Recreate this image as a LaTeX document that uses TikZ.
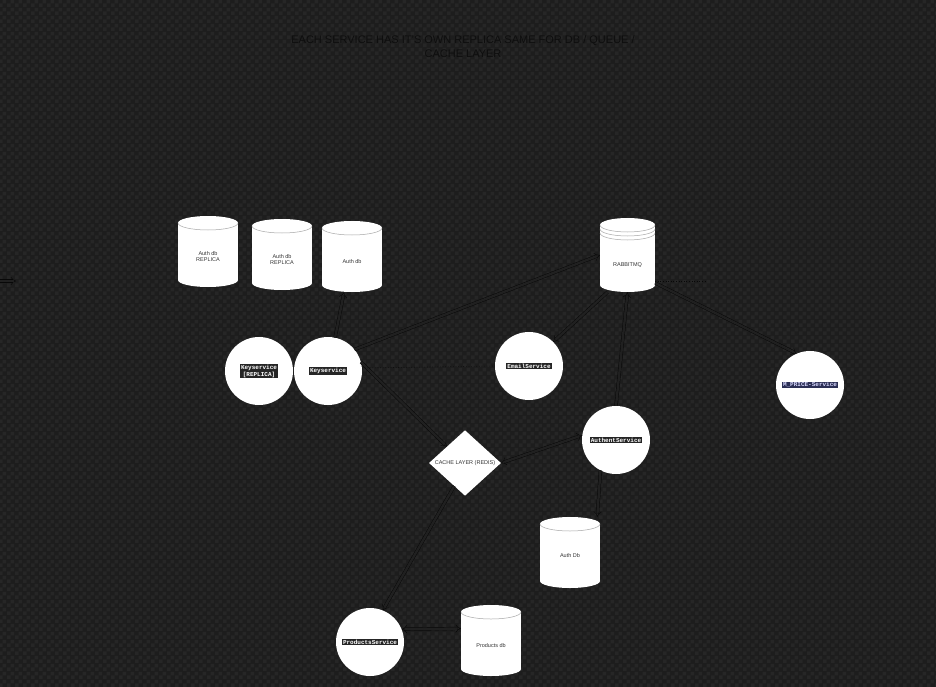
\documentclass[tikz,border=0pt]{standalone}
\usepackage{fontspec}
\setmainfont{Liberation Sans}
\newfontfamily\monof{Liberation Mono}
\usetikzlibrary{arrows.meta,shapes.geometric,patterns.meta}
\definecolor{bgA}{HTML}{1D1D1D}
\definecolor{bgB}{HTML}{262626}
\definecolor{ttl}{HTML}{0E0E0E}
\definecolor{codebg}{HTML}{252525}
\definecolor{codeblue}{HTML}{2B2F55}
\definecolor{lbl}{HTML}{333333}
\definecolor{conncore}{HTML}{202020}
\definecolor{connline}{HTML}{080808}
\tikzdeclarepattern{
  name=chk, type=uncolored,
  bottom left={(0pt,0pt)}, top right={(8pt,8pt)}, tile size={(8pt,8pt)},
  code={\fill (0pt,0pt) rectangle (4pt,4pt); \fill (4pt,4pt) rectangle (8pt,8pt);}
}
\tikzset{
  svc/.style={circle, fill=white, minimum size=68pt, inner sep=0pt},
  code/.style={fill=codebg, text=white, font=\monof\bfseries\fontsize{6}{7}\selectfont, inner sep=1pt, align=center},
  dblabel/.style={text=lbl, font=\fontsize{5.5}{6.5}\selectfont, align=center},
  cylbox/.style={rectangle, inner sep=0pt},
  conn/.style={draw=connline, line width=0.45pt, double=conncore, double distance=2.4pt, -{Implies}},
  conn2/.style={conn, {Implies}-{Implies}},
  faint/.style={draw=connline, dotted, line width=0.6pt},
}
% cylinder: #1 name, #2 cx, #3 top, #4 width, #5 height, #6 text, #7 label offset
\newcommand{\mycyl}[7]{%
  \pgfmathsetmacro{\cylL}{#2-#4/2}\pgfmathsetmacro{\cylR}{#2+#4/2}%
  \pgfmathsetmacro{\cylT}{#3+7}\pgfmathsetmacro{\cylB}{#3+#5-7}%
  \pgfmathsetmacro{\cylM}{#3+#5/2}%
  \pgfmathsetmacro{\cylN}{#3+#5/2+#7}%
  \fill[white] (\cylL,\cylT) rectangle (\cylR,\cylB);
  \fill[white] (#2,\cylB) ellipse [x radius=#4/2, y radius=7];
  \fill[white] (#2,\cylT) ellipse [x radius=#4/2, y radius=7];
  \draw[gray!70, line width=0.5pt] (\cylL,\cylT) arc[start angle=180, end angle=0, x radius=#4/2, y radius=7];
  \node[cylbox, minimum width=#4pt, minimum height=#5pt] (#1) at (#2,\cylM) {};
  \node[dblabel] (#1-t) at (#2,\cylN) {#6};
}
\begin{document}
\begin{tikzpicture}[x=1pt,y=-1pt]
\useasboundingbox (0,0) rectangle (936,687);
\clip (0,0) rectangle (936,687);
\fill[bgA] (0,0) rectangle (936,687);
\fill[pattern=chk, pattern color=bgB] (0,0) rectangle (936,687);

% title
\node[text=ttl, font=\fontsize{11}{13.5}\selectfont, align=center] (title) at (463,46.5)
  {EACH SERVICE HAS IT'S OWN REPLICA SAME FOR DB / QUEUE / \\ CACHE LAYER};

% cylinders
\mycyl{adbr1}{208}{216}{60}{71}{Auth db\\REPLICA}{5}
\mycyl{adbr2}{282}{219}{60}{71}{Auth db\\REPLICA}{5}
\mycyl{adb}{352}{221}{60}{71}{Auth db}{5}
\mycyl{rmq}{627.5}{218}{55}{74}{RABBITMQ}{10}
\draw[gray!70, line width=0.5pt] (600,229) arc[start angle=180, end angle=0, x radius=27.5, y radius=7];
\draw[gray!70, line width=0.5pt] (600,233) arc[start angle=180, end angle=0, x radius=27.5, y radius=7];
\mycyl{adb2}{570}{517}{60}{71}{Auth Db}{3}
\mycyl{pdb}{491}{605}{60}{71}{Products db}{5}

% services
\node[svc] (ksr) at (259,371) {};
\node[code] (ksr-t) at (259,371) {Keyservice\\{}[REPLICA]};
\node[svc] (ks) at (328,371) {};
\node[code] (ks-t) at (328,371) {Keyservice};
\node[svc] (email) at (529,366) {};
\node[code] (email-t) at (529,366) {EmailService};
\node[svc] (price) at (810,385) {};
\node[code, fill=codeblue, text=blue!15] (price-t) at (810,385) {M\_PRICE-Service};
\node[svc] (auth) at (616,440) {};
\node[code] (auth-t) at (616,440) {AuthentService};
\node[svc] (prod) at (370,642) {};
\node[code] (prod-t) at (370,642) {ProductsService};

% cache
\node[diamond, fill=white, minimum width=72pt, minimum height=60pt, inner sep=0pt,
      text=lbl, font=\fontsize{5.5}{6.5}\selectfont] (cache) at (465,463) {CACHE LAYER (REDIS)};

% connectors
\draw[conn] (ks.39) -- (rmq.west);
\draw[conn] (ks.78) -- ([xshift=-8pt]adb.south);
\draw[conn] (ks.15) -- (cache.north west);
\draw[conn] ([xshift=-20pt]rmq.south) -- (email.45);
\draw[conn] (auth.north) -- (rmq.south);
\draw[conn] ([yshift=-28pt]rmq.east) -- (price.113);
\draw[conn2] (cache.east) -- (auth.172);
\draw[conn] (auth.-117) -- ([xshift=-3pt]adb2.north east);
\draw[conn] (cache.245) -- (prod.68);
\draw[conn2] (prod.22) -- ([yshift=12pt]pdb.west);
\coordinate (lin0) at (-20,281);
\coordinate (lin1) at (16,281);
\draw[conn] (lin0) -- (lin1);
\draw[faint] (ks.5) -- (email.west);
\coordinate (rq-d) at (705,281);
\draw[faint] ([yshift=-26pt]rmq.east) -- (rq-d);
\end{tikzpicture}
\end{document}
